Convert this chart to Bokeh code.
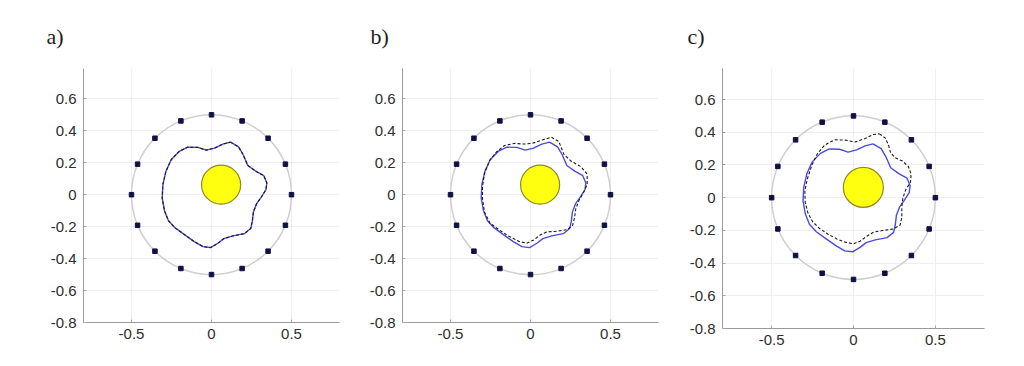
import numpy as np
from bokeh.plotting import figure
from bokeh.layouts import row
from bokeh.models import FixedTicker
from bokeh.embed import file_html
from bokeh.resources import INLINE

# ---- data ----
panel_titles = ["a)", "b)", "c)"]
x_ticks = [-0.5, 0, 0.5]
y_ticks = [-0.8, -0.6, -0.4, -0.2, 0, 0.2, 0.4, 0.6]

sensor_radius = 0.5
sensor_angles_deg = [0, 22.5, 45, 67.5, 90, 112.5, 135, 157.5,
                     180, 202.5, 225, 247.5, 270, 292.5, 315, 337.5]

inclusion_center = (0.06, 0.063)
inclusion_radius = 0.122

# true boundary (blue, same in all panels)
true_x = [0.119, 0.169, 0.198, 0.227, 0.279, 0.327, 0.346, 0.340, 0.310, 0.281,
          0.262, 0.255, 0.245, 0.205, 0.133, 0.077, 0.040, -0.006, -0.054, -0.110,
          -0.169, -0.227, -0.269, -0.294, -0.308, -0.304, -0.285, -0.252, -0.202,
          -0.148, -0.085, -0.033, 0.019, 0.071]
true_y = [0.329, 0.300, 0.250, 0.183, 0.146, 0.119, 0.073, 0.031, -0.017, -0.058,
          -0.108, -0.167, -0.212, -0.244, -0.258, -0.275, -0.304, -0.331, -0.325, -0.292,
          -0.250, -0.208, -0.163, -0.100, -0.021, 0.063, 0.146, 0.219, 0.271,
          0.298, 0.296, 0.279, 0.292, 0.317]

# reconstructed boundary (black dashed) for each panel
rec_a_x = true_x
rec_a_y = true_y

rec_b_x = [0.131, 0.177, 0.208, 0.250, 0.313, 0.354, 0.354, 0.333, 0.304, 0.283,
           0.275, 0.263, 0.229, 0.163, 0.100, 0.058, 0.021, -0.025, -0.073, -0.135,
           -0.198, -0.254, -0.288, -0.300, -0.300, -0.287, -0.256, -0.213, -0.163,
           -0.100, -0.042, 0.010, 0.073]
rec_b_y = [0.360, 0.333, 0.254, 0.213, 0.177, 0.129, 0.063, 0.017, -0.033, -0.088,
           -0.146, -0.192, -0.219, -0.229, -0.233, -0.254, -0.283, -0.304, -0.292, -0.260,
           -0.219, -0.177, -0.108, -0.025, 0.052, 0.135, 0.213, 0.267, 0.308,
           0.321, 0.317, 0.321, 0.342]

rec_c_x = [0.157, 0.193, 0.213, 0.226, 0.254, 0.299, 0.335, 0.352, 0.348, 0.319,
           0.301, 0.295, 0.295, 0.285, 0.244, 0.177, 0.122, 0.081, 0.041, 0.000,
           -0.051, -0.102, -0.157, -0.209, -0.250, -0.278, -0.295, -0.297, -0.282,
           -0.256, -0.222, -0.177, -0.116, -0.051, 0.010, 0.071, 0.122]
rec_c_y = [0.390, 0.366, 0.325, 0.276, 0.244, 0.224, 0.191, 0.144, 0.094, 0.049,
           -0.004, -0.059, -0.120, -0.167, -0.191, -0.201, -0.211, -0.236, -0.266, -0.282,
           -0.272, -0.252, -0.222, -0.187, -0.146, -0.094, -0.028, 0.043, 0.114,
           0.195, 0.266, 0.321, 0.354, 0.352, 0.341, 0.362, 0.386]

recs = [(rec_a_x, rec_a_y), (rec_b_x, rec_b_y), (rec_c_x, rec_c_y)]

# ---- layout (styles) ----
frames = [dict(fw=256, fh=254, left=83, top=67, title_off=-37),
          dict(fw=256, fh=254, left=57, top=68, title_off=-32),
          dict(fw=262, fh=260, left=41, top=64, title_off=-35)]
FIG_W = [345, 336, 343]
FIG_H = 360


def closed(seq):
    return list(seq) + [seq[0]]


figs = []
for title, (rx, ry), fr, fw in zip(panel_titles, recs, frames, FIG_W):
    p = figure(frame_width=fr["fw"], frame_height=fr["fh"],
               x_range=(-0.8, 0.8), y_range=(-0.8, 0.79),
               output_backend="svg", toolbar_location=None,
               min_border_left=fr["left"], min_border_top=fr["top"],
               min_border_right=fw - fr["left"] - fr["fw"],
               min_border_bottom=FIG_H - fr["top"] - fr["fh"])
    p.outline_line_color = None
    p.background_fill_color = "white"
    p.border_fill_color = "white"

    p.title.text = title
    p.title.align = "left"
    p.title.offset = fr["title_off"]
    p.title.text_font = "Liberation Serif"
    p.title.text_font_size = "22px"
    p.title.text_font_style = "normal"
    p.title.text_color = "#1e1e1e"
    p.title.standoff = 39

    p.xaxis.ticker = FixedTicker(ticks=x_ticks)
    p.yaxis.ticker = FixedTicker(ticks=y_ticks)
    p.xaxis.major_label_overrides = {-0.5: "-0.5", 0: "0", 0.5: "0.5"}
    p.yaxis.major_label_overrides = {v: ("0" if v == 0 else f"{v:.1f}") for v in y_ticks}
    for ax in (p.xaxis[0], p.yaxis[0]):
        ax.axis_line_color = "#9a9a9a"
        ax.major_tick_line_color = "#a8a8a8"
        ax.major_tick_in = 3
        ax.major_tick_out = 0
        ax.minor_tick_line_color = None
        ax.major_label_text_font = "Liberation Sans"
        ax.major_label_text_font_size = "15px"
        ax.major_label_text_color = "#2e2e2e"
    p.xaxis.major_label_standoff = 6
    p.yaxis.major_label_standoff = 7
    p.grid.grid_line_color = "#efefef"

    # sensor ring
    p.circle(x=[0], y=[0], radius=sensor_radius, fill_color=None,
             line_color="#cfcfcf", line_width=1.5)
    ang = np.deg2rad(sensor_angles_deg)
    p.scatter(x=sensor_radius * np.cos(ang), y=sensor_radius * np.sin(ang),
              marker="square", size=4.5, fill_color="#101045", line_color="#101045")

    # inclusion
    p.circle(x=[inclusion_center[0]], y=[inclusion_center[1]], radius=inclusion_radius,
             fill_color="#ffff10", line_color="#8f8a2a", line_width=1.2)

    # true boundary
    p.line(closed(true_x), closed(true_y), line_color="#4c4cdc", line_width=1.4,
           line_join="round")
    # reconstruction
    p.line(closed(rx), closed(ry), line_color="#1a1a1a", line_width=1.1,
           line_dash="3 2", line_join="round")

    figs.append(p)

layout = row(*figs)
open("out.html", "w").write(file_html(layout, INLINE))
